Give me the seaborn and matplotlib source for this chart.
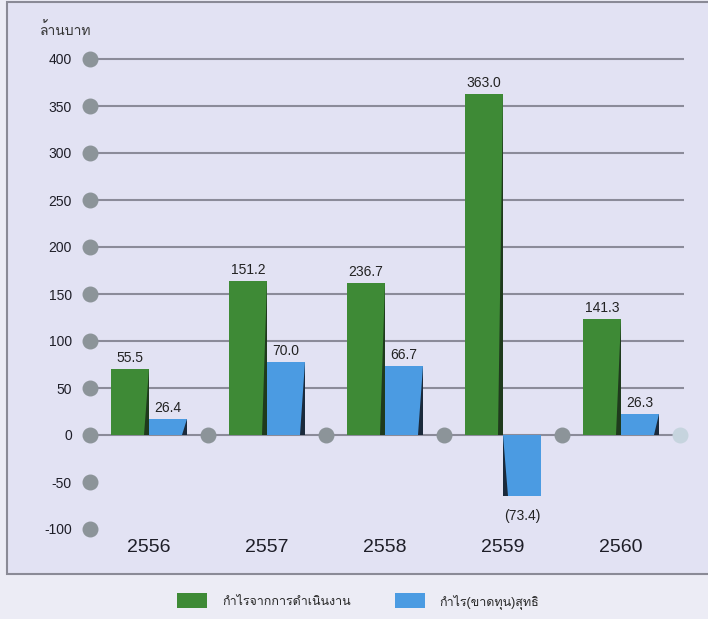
import numpy as np
import pandas as pd
import seaborn as sns
import matplotlib.pyplot as plt
from matplotlib.patches import Rectangle, Polygon, Patch
from matplotlib import font_manager
from matplotlib.ft2font import FT2Font

# ข้อมูล (ความสูงแท่งอ่านจากภาพ, ป้ายตัวเลขตามที่พิมพ์ไว้)
years = ['2556', '2557', '2558', '2559', '2560']
series = ['กำไรจากการดำเนินงาน', 'กำไร(ขาดทุน)สุทธิ']
operating = [70, 164, 162, 363, 123]
net = [17, 78, 73, -65, 22]
operating_labels = ['55.5', '151.2', '236.7', '363.0', '141.3']
net_labels = ['26.4', '70.0', '66.7', '(73.4)', '26.3']
yticks = [-100, -50, 0, 50, 100, 150, 200, 250, 300, 350, 400]
unit_label = 'ล้านบาท'

green = '#3e8a36'
blue = '#4b9be2'
bg_in = '#e2e2f3'
bg_out = '#ececf5'

# หาฟอนต์ที่มีอักษรไทย
thai_font = None
for f in font_manager.fontManager.ttflist:
    try:
        if 0x0E01 in FT2Font(f.fname).get_charmap():
            thai_font = f.name
            break
    except Exception:
        pass

sns.set_style('white')
fams = ['Liberation Sans']
if thai_font:
    fams.append(thai_font)
fams.append('DejaVu Sans')
plt.rcParams['font.family'] = fams

df = pd.DataFrame({
    'year': years * 2,
    'series': [series[0]] * len(years) + [series[1]] * len(years),
    'value': operating + net,
})

W, H = 708, 619
fig = plt.figure(figsize=(W / 100, H / 100), dpi=100, facecolor=bg_out)
fig.patches.append(Rectangle((7 / W, 1 - 574 / H), 1.2, (574 - 2) / H, transform=fig.transFigure,
                             facecolor=bg_in, edgecolor='#8a8a96', lw=1.5, zorder=-5))

ax = fig.add_axes([90 / W, 1 - 529 / H, 590 / W, (529 - 59) / H])
ax.set_facecolor('none')
ax.set_zorder(2)

sns.barplot(data=df, x='year', y='value', hue='series', palette=[green, blue],
            width=0.65, saturation=1, legend=False, linewidth=0, ax=ax, zorder=3)

n = len(years)
ax.set_xlim(-0.5, n - 0.5)
ax.set_ylim(min(yticks), max(yticks))

# เส้นกริด
grid_vals = [v for v in yticks if v >= 0]
ax.hlines(grid_vals, -0.5, n - 0.5 + 0.03, color='#8b8b99', lw=1.5, zorder=1, clip_on=False)

# จุดกลม
ax.scatter([-0.5] * len(yticks), yticks, s=110, color='#8c9499', clip_on=False, zorder=4)
sep = np.arange(n) + 0.5
ax.scatter(sep[:-1], [0] * (n - 1), s=110, color='#8c9499', clip_on=False, zorder=4)
ax.scatter([sep[-1]], [0], s=110, color='#c6d4de', clip_on=False, zorder=4)

# เงาแท่ง + ป้ายตัวเลข
shade = {0: '#1f3a1d', 1: '#1b2a3b'}
for i, (cont, labs) in enumerate(zip(ax.containers, [operating_labels, net_labels])):
    for p, lab in zip(cont.patches, labs):
        x0, w = p.get_x(), p.get_width()
        y0, h = p.get_y(), p.get_height()
        if h >= 0:
            tri = [(x0 + w, y0 + h), (x0 + w, y0), (x0 + w - 0.14 * w, y0)]
            ax.annotate(lab, (x0 + w / 2, y0 + h), xytext=(0, 3), textcoords='offset points',
                        ha='center', va='bottom', fontsize=10, color='#222222')
        else:
            tri = [(x0, y0), (x0, y0 + h), (x0 + 0.14 * w, y0 + h)]
            ax.annotate(lab, (x0 + w / 2, y0 + h), xytext=(0, -9), textcoords='offset points',
                        ha='center', va='top', fontsize=10, color='#222222')
        ax.add_patch(Polygon(tri, closed=True, facecolor=shade[i], edgecolor='none', zorder=3.5))

ax.set_yticks(yticks)
ax.set_yticklabels([str(v) for v in yticks], fontsize=10, color='#1e1e28')
ax.set_xticks(range(n))
ax.set_xticklabels(years, fontsize=14, color='#1e1e28')
ax.tick_params(axis='y', length=0, pad=13)
ax.tick_params(axis='x', length=0, pad=7)
ax.set_xlabel('')
ax.set_ylabel('')
for s in ax.spines.values():
    s.set_visible(False)

fig.text(40 / W, 1 - 30 / H, unit_label, fontsize=10, color='#333333', va='center')

handles = [Patch(facecolor=green, edgecolor='none'), Patch(facecolor=blue, edgecolor='none')]
fig.legend(handles, series, loc='center', bbox_to_anchor=(0.506, 1 - 601 / H), ncol=2,
           frameon=False, fontsize=9, handlelength=2.4, handleheight=1.4,
           handletextpad=1.2, columnspacing=3.5)

fig.savefig('out.png', dpi=100, facecolor=bg_out)
